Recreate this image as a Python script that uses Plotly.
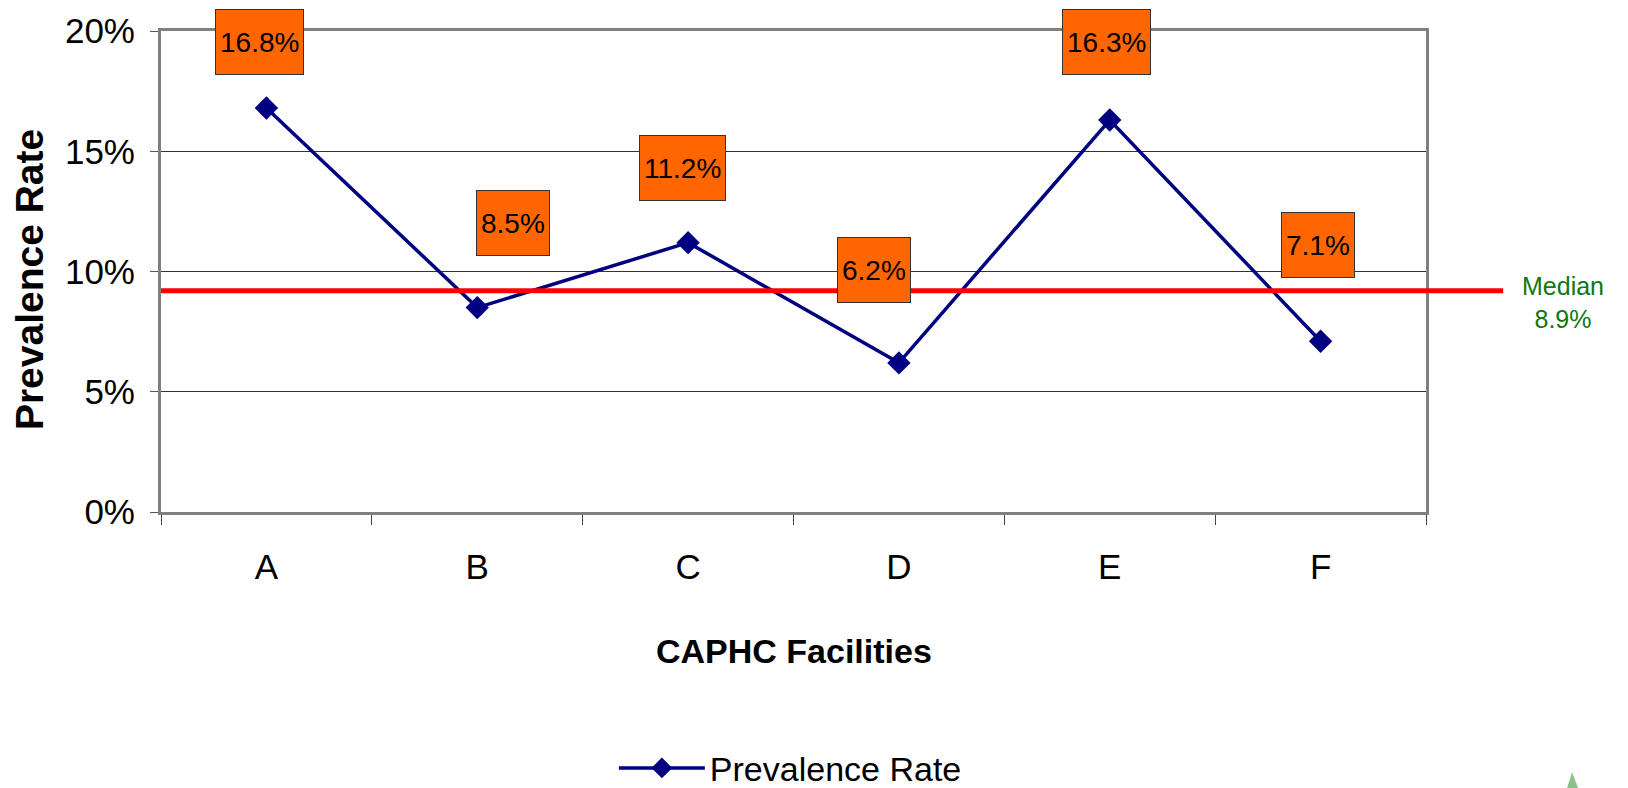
import plotly.graph_objects as go

# ---- data ----
facilities = ["A", "B", "C", "D", "E", "F"]
prevalence = [16.8, 8.5, 11.2, 6.2, 16.3, 7.1]
value_labels = ["16.8%", "8.5%", "11.2%", "6.2%", "16.3%", "7.1%"]
median_line_value = 9.2
median_label = "Median<br>8.9%"
series_name = "Prevalence Rate"
x_title = "CAPHC Facilities"
y_title = "Prevalence Rate"
y_tick_values = [0, 5, 10, 15, 20]
y_tick_text = ["0%", "5%", "10%", "15%", "20%"]

# label box offsets (pixels) relative to each point – layout only
label_xshift = [-7, 36, -6, -25, -3, -3]
label_yshift = [66, 85, 75, 93, 78, 96]

FONT = "Liberation Sans, Arial, sans-serif"
NAVY = "#000080"

fig = go.Figure()
fig.add_trace(go.Scatter(
    x=facilities, y=prevalence, name=series_name,
    mode="lines+markers",
    line=dict(color=NAVY, width=3.5),
    marker=dict(symbol="diamond", size=18, color=NAVY),
))

for cat, val, txt, dx, dy in zip(facilities, prevalence, value_labels, label_xshift, label_yshift):
    fig.add_annotation(
        x=cat, y=val, text=txt, showarrow=False,
        xshift=dx, yshift=dy,
        font=dict(family=FONT, size=28, color="black"),
        bgcolor="#FF6600", bordercolor="#333333", borderwidth=1,
        borderpad=4, height=56,
    )

# median line extending past the plot area
fig.add_shape(type="line", xref="paper", yref="y",
              x0=0, x1=1.061, y0=median_line_value, y1=median_line_value,
              line=dict(color="#FF0000", width=5), layer="above")
fig.add_annotation(xref="paper", yref="y", x=1.108, y=median_line_value,
                   yshift=-12, text=median_label, showarrow=False,
                   xanchor="center", yanchor="middle",
                   font=dict(family=FONT, size=25, color="#117711"),
                   align="center")

# axis titles placed as annotations
fig.add_annotation(xref="paper", yref="paper", x=0.5, y=-0.289,
                   text=f"<b>{x_title}</b>", showarrow=False,
                   font=dict(family=FONT, size=34, color="black"),
                   xanchor="center", yanchor="middle")
fig.add_annotation(xref="paper", yref="paper", x=-0.104, y=0.483,
                   text=f"<b>{y_title}</b>", showarrow=False, textangle=-90,
                   font=dict(family=FONT, size=39, color="black"),
                   xanchor="center", yanchor="middle")

# small decorative mark in the bottom-right corner
fig.add_shape(type="path", xref="paper", yref="paper",
              path="M 1.1155 -0.5405 L 1.1115 -0.574 L 1.1202 -0.574 Z",
              fillcolor="#5aa85a", line=dict(width=0), opacity=0.7)

fig.update_layout(
    width=1628, height=788,
    margin=dict(l=161, r=202, t=31, b=276, autoexpand=False),
    plot_bgcolor="white", paper_bgcolor="white",
    showlegend=True,
    legend=dict(orientation="h", x=0.358, y=-0.533, xanchor="left", yanchor="middle",
                font=dict(family=FONT, size=34, color="black"),
                itemwidth=86, bgcolor="rgba(0,0,0,0)"),
    font=dict(family=FONT, color="black"),
)

fig.update_xaxes(
    type="category", range=[-0.5, 5.5],
    showline=True, linecolor="#808080", linewidth=3, mirror=True,
    ticks="outside", tickson="boundaries", ticklen=10, tickcolor="#444", tickwidth=1,
    tickfont=dict(family=FONT, size=35, color="black"),
    ticklabelstandoff=22,
    showgrid=False,
)
fig.update_yaxes(
    range=[0, 20], tickmode="array", tickvals=y_tick_values, ticktext=y_tick_text,
    showline=True, linecolor="#808080", linewidth=3, mirror=True,
    ticks="outside", ticklen=8, tickcolor="#555", tickwidth=1,
    tickfont=dict(family=FONT, size=35, color="black"),
    ticklabelstandoff=8,
    showgrid=True, gridcolor="#333333", gridwidth=1, zeroline=False,
)

fig.write_html(
    "out.html",
    config={"displayModeBar": False},
    post_script="document.body.style.margin='0';document.body.style.overflow='hidden';",
)
